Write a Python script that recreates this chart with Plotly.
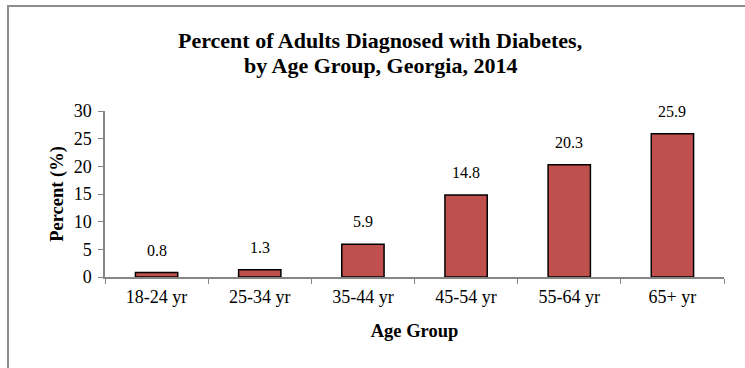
import plotly.graph_objects as go

# Data
age_groups = ["18-24 yr", "25-34 yr", "35-44 yr", "45-54 yr", "55-64 yr", "65+ yr"]
percent = [0.8, 1.3, 5.9, 14.8, 20.3, 25.9]
y_ticks = [0, 5, 10, 15, 20, 25, 30]
title_lines = ["Percent of Adults Diagnosed with Diabetes,", "by Age Group, Georgia, 2014"]

W, H = 745, 368
ML, MR, MT, MB = 105, 21, 111, 91
serif = "'Liberation Serif', 'Times New Roman', serif"

pw = W - ML - MR
ph = H - MT - MB
def px_to_paper_x(px):
    return (px - ML) / pw
def px_to_paper_y(py):
    return (H - MB - py) / ph

fig = go.Figure()
fig.add_trace(go.Bar(
    x=age_groups,
    y=percent,
    width=0.41,
    marker=dict(color="#C0504D", line=dict(color="#000000", width=1.5)),
    hoverinfo="x+y",
))

# Value labels above each bar
for cat, val in zip(age_groups, percent):
    fig.add_annotation(
        x=cat, y=val, text=f"{val}", showarrow=False,
        yanchor="bottom", yshift=12,
        font=dict(family=serif, size=16, color="#000000"),
    )

# Two-line chart title
for line, ypx in zip(title_lines, [40, 65]):
    fig.add_annotation(
        xref="paper", yref="paper",
        x=px_to_paper_x(380), y=px_to_paper_y(ypx),
        xanchor="center", yanchor="middle",
        text=f"<b>{line}</b>", showarrow=False,
        font=dict(family=serif, size=22, color="#000000"),
    )

# Outer chart border
fig.add_shape(
    type="rect", xref="paper", yref="paper",
    x0=px_to_paper_x(8), x1=px_to_paper_x(W + 20),
    y0=px_to_paper_y(H + 20), y1=px_to_paper_y(6),
    line=dict(color="#8C8C8C", width=2), fillcolor="rgba(0,0,0,0)", layer="below",
)

fig.update_layout(
    width=W, height=H,
    margin=dict(l=ML, r=MR, t=MT, b=MB),
    paper_bgcolor="white", plot_bgcolor="white",
    showlegend=False,
    xaxis=dict(
        type="category",
        showline=True, linecolor="#868686", linewidth=1.5,
        ticks="outside", tickson="boundaries", ticklen=5, tickcolor="#868686",
        ticklabelstandoff=3,
        tickfont=dict(family=serif, size=18, color="#000000"),
        title=dict(text="<b>Age Group</b>", font=dict(family=serif, size=18.5, color="#000000"), standoff=18),
        showgrid=False,
    ),
    yaxis=dict(
        range=[0, 30], tickvals=y_ticks,
        showline=True, linecolor="#868686", linewidth=1.5,
        ticks="outside", ticklen=5, tickcolor="#868686",
        ticklabelstandoff=3,
        tickfont=dict(family=serif, size=18, color="#000000"),
        title=dict(text="<b>Percent (%)</b>", font=dict(family=serif, size=18.5, color="#000000"), standoff=5),
        showgrid=False, zeroline=False,
    ),
)

fig.write_html("out.html")
